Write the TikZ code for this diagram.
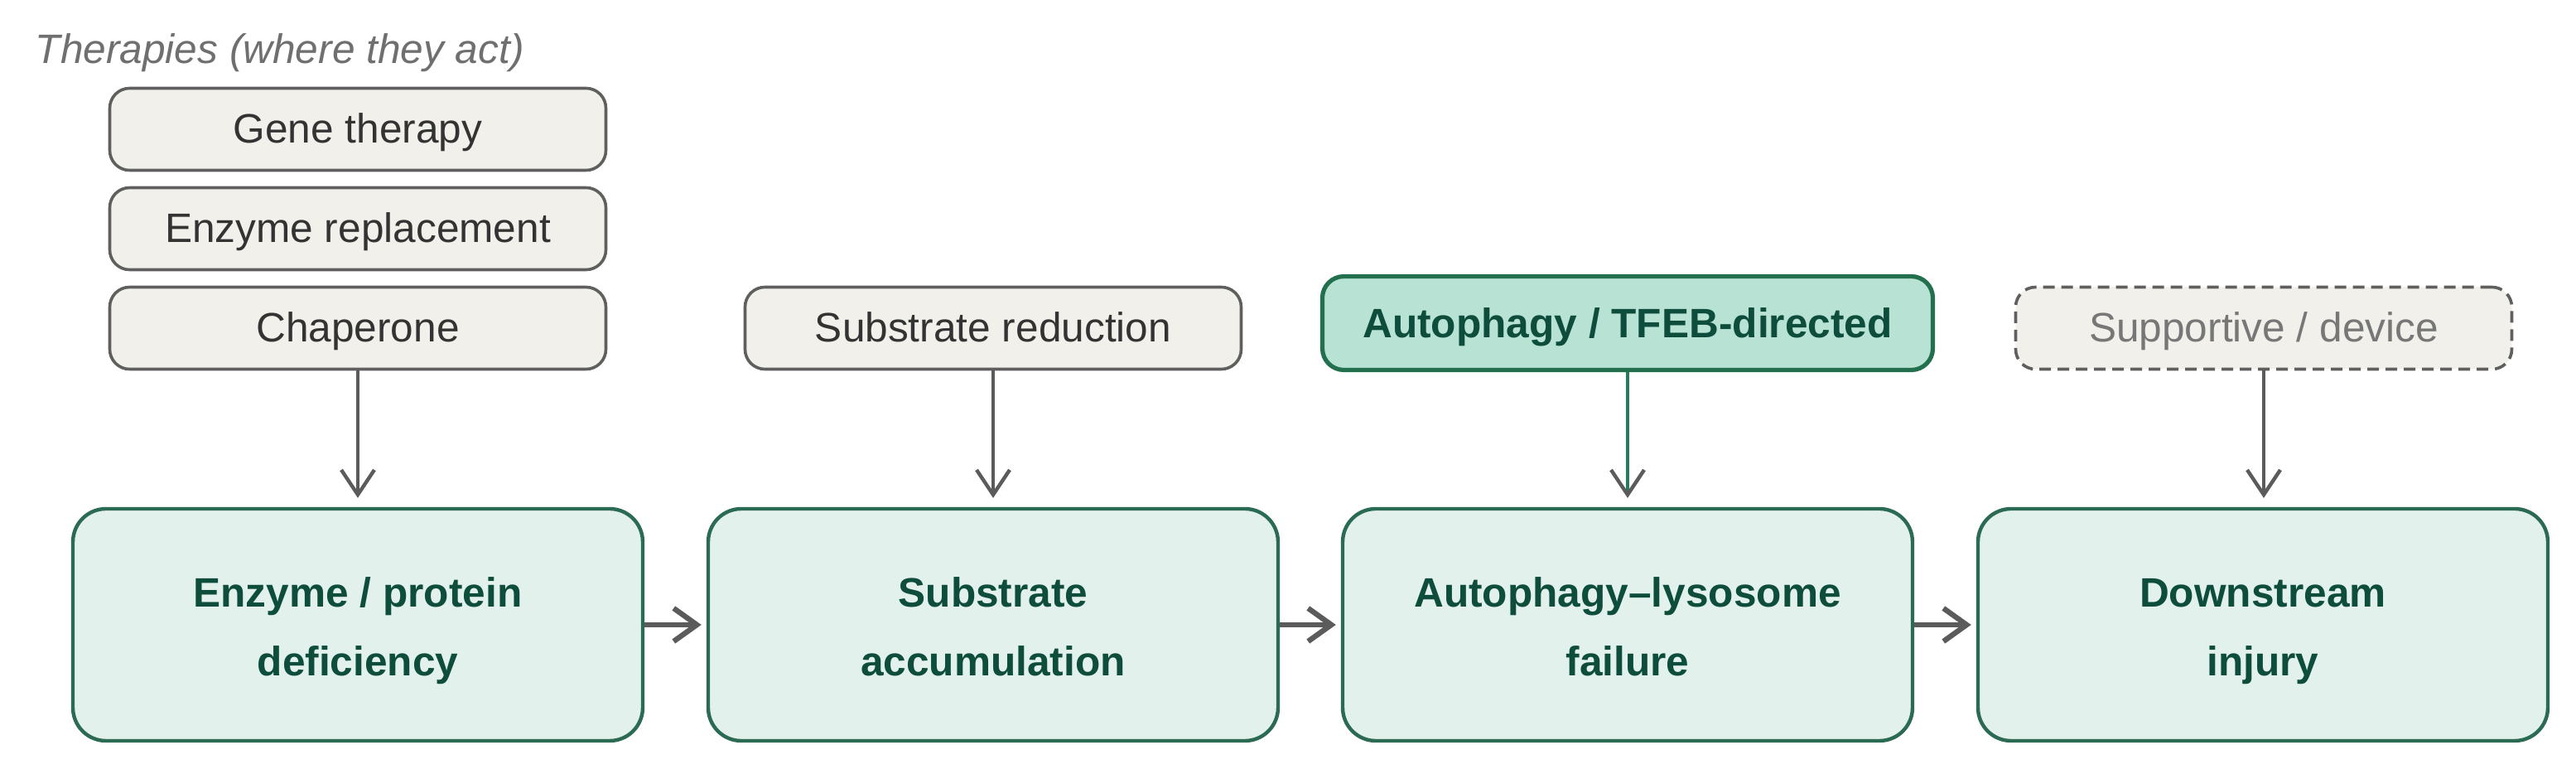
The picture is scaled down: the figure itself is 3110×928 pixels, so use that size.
\documentclass[tikz,border=0pt]{standalone}
\usepackage{fontspec}
\setmainfont{Liberation Sans}
\usetikzlibrary{arrows.meta}
\definecolor{mainfill}{HTML}{E3F1EC}
\definecolor{maindraw}{HTML}{2B6A53}
\definecolor{maintext}{HTML}{0E4D3B}
\definecolor{tfebfill}{HTML}{B8E2D3}
\definecolor{tfebdraw}{HTML}{23704F}
\definecolor{grayfill}{HTML}{F2F0EA}
\definecolor{graydraw}{HTML}{5F5F5F}
\definecolor{graytext}{HTML}{333333}
\definecolor{suptext}{HTML}{777777}
\definecolor{arrowgray}{HTML}{5B5B5B}
\definecolor{arrowgreen}{HTML}{2A7A5E}
\definecolor{titlegray}{HTML}{6F6F6F}
\tikzset{
  x=0.25pt, y=-0.25pt,
  txt/.style={font=\fontsize{12.4}{20.75}\selectfont},
  mainbox/.style={draw=maindraw, fill=mainfill, line width=1.1pt, rounded corners=10pt,
    minimum width=172pt, minimum height=70pt, inner sep=0pt, align=center, text=maintext,
    text height=33.4pt, text depth=2.6pt, font=\fontsize{12.4}{20.75}\selectfont\bfseries},
  therbox/.style={txt, draw=graydraw, fill=grayfill, line width=0.9pt, rounded corners=6pt,
    minimum width=149.75pt, minimum height=24.75pt, inner sep=0pt, text=graytext,
    text height=10.6pt, text depth=2.2pt},
  tfebbox/.style={draw=tfebdraw, fill=tfebfill, line width=1.3pt, rounded corners=6.5pt,
    minimum width=184.25pt, minimum height=28.25pt, inner sep=0pt, text=maintext,
    text height=10.9pt, text depth=2.0pt, font=\fontsize{12.4}{20.75}\selectfont\bfseries},
  supbox/.style={therbox, draw=graydraw, dash pattern=on 3.5pt off 2pt, text=suptext},
  varrow/.style={draw=arrowgray, line width=1.1pt, -{Straight Barb[length=7.5pt,width=10pt,color=arrowgray]}},
  harrow/.style={draw=arrowgray, line width=1.6pt, -{Straight Barb[length=7pt,width=10pt,color=arrowgray]}},
}
\begin{document}
\begin{tikzpicture}
\useasboundingbox (0,0) rectangle (3110,928);
\node[anchor=base west, inner sep=0pt, text=titlegray, font=\fontsize{12.4}{15}\selectfont\itshape] (title) at (42,77) {Therapies (where they act)};

\node[therbox] (gene) at (432,156) {Gene therapy};
\node[therbox] (erep) at (432,276) {Enzyme replacement};
\node[therbox] (chap) at (432,396) {Chaperone};
\node[therbox] (sred) at (1199,396) {Substrate reduction};
\node[tfebbox] (tfeb) at (1965,390) {Autophagy / TFEB-directed};
\node[supbox] (supp) at (2733,396) {Supportive / device};

\node[mainbox] (m1) at (432,754) {Enzyme / protein\\deficiency};
\node[mainbox] (m2) at (1199,754) {Substrate\\accumulation};
\node[mainbox] (m3) at (1965,754) {Autophagy–lysosome\\failure};
\node[mainbox] (m4) at (2732,754) {Downstream\\injury};

\coordinate (t1) at (432,601);
\coordinate (t2) at (1199,601);
\coordinate (t3) at (1965,601);
\coordinate (t4) at (2733,601);
\draw[varrow] (chap.south) -- (t1);
\draw[varrow] (sred.south) -- (t2);
\draw[varrow, draw=arrowgreen] (tfeb.south) -- (t3);
\draw[varrow] (supp.south) -- (t4);

\draw[harrow] (m1.east) -- ([xshift=-1.5pt]m2.west);
\draw[harrow] (m2.east) -- ([xshift=-1.5pt]m3.west);
\draw[harrow] (m3.east) -- ([xshift=-1.5pt]m4.west);
\end{tikzpicture}
\end{document}
